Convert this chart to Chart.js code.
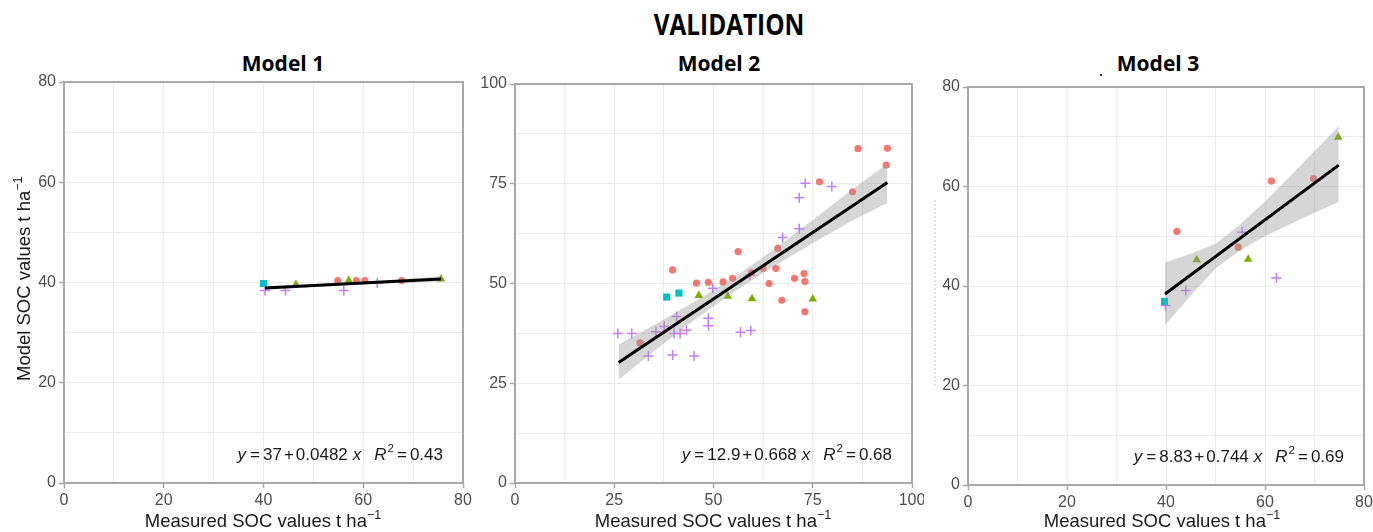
<!DOCTYPE html>
<html>
<head>
<meta charset="utf-8">
<script src="https://cdn.jsdelivr.net/npm/chart.js@4.4.0/dist/chart.umd.min.js"></script>
<style>
  body { margin: 0; background: #fff; }
  #page { position: relative; width: 1373px; height: 532px; overflow: hidden; font-family: "Liberation Sans", Arial, sans-serif; }
  .box { position: absolute; top: 40px; height: 470px; }
  .box canvas { display: block; }
  .head { position: absolute; font-family: "Open Sans", sans-serif; font-weight: 700; line-height: 1; white-space: nowrap; color: #000; }
  .axt { position: absolute; font-size: 18.5px; line-height: 1; white-space: nowrap; color: #1a1a1a; }
  .sup { position: relative; top: -8px; font-size: 12.5px; }
  #dots { position: absolute; left: 934px; top: 200px; height: 186px; border-left: 2px dotted #cdebf7; }
  #speck { position: absolute; left: 1100px; top: 74px; width: 2px; height: 2px; background: #333; }
</style>
</head>
<body>
<div id="page">
  <div class="head" style="left:729px; top:9px; font-size:29px; transform:translateX(-50%) scaleX(0.84);">VALIDATION</div>
  <div class="head" style="left:283px; top:53px; font-size:21px; transform:translateX(-50%);">Model 1</div>
  <div class="head" style="left:719px; top:53px; font-size:21px; transform:translateX(-50%);">Model 2</div>
  <div class="head" style="left:1158px; top:53px; font-size:21px; transform:translateX(-50%);">Model 3</div>
  <div id="speck"></div>
  <div id="dots"></div>

  <div class="box" style="left:0px; width:476px;"><canvas id="c1" width="476" height="470"></canvas></div>
  <div class="box" style="left:476px; width:448px;"><canvas id="c2" width="448" height="470"></canvas></div>
  <div class="box" style="left:924px; width:449px;"><canvas id="c3" width="449" height="470"></canvas></div>

  <div class="axt" style="left:263px; top:512px; transform:translateX(-50%);">Measured SOC values t ha<span class="sup">−1</span></div>
  <div class="axt" style="left:713px; top:512px; transform:translateX(-50%);">Measured SOC values t ha<span class="sup">−1</span></div>
  <div class="axt" style="left:1162px; top:512px; transform:translateX(-50%);">Measured SOC values t ha<span class="sup">−1</span></div>
  <div class="axt" style="left:15px; top:381px; transform-origin:0 0; transform:rotate(-90deg);">Model SOC values t ha<span class="sup">−1</span></div>
</div>

<script>
// ---- Model 1 ----
const m1Circles = [[54.9, 40.4], [58.6, 40.4], [60.3, 40.4], [67.7, 40.4]];
const m1Triangles = [[46.5, 39.6], [57.1, 40.4], [75.6, 40.7]];
const m1Squares = [[40.0, 39.8]];
const m1Crosses = [[40.3, 38.4], [44.4, 38.4], [56.1, 38.4], [62.8, 39.9]];
const m1FitX = [40.3, 75.6];
const m1FitY = [38.9, 40.7];
const m1BandX = [40.3, 57, 75.6];
const m1BandLo = [38.5, 39.55, 40.2];
const m1BandHi = [39.3, 39.95, 41.2];

// ---- Model 2 ----
const m2Circles = [
  [86.4, 83.8], [93.8, 83.9], [93.5, 79.7], [76.7, 75.5], [85.0, 73.0],
  [56.2, 58.0], [66.2, 58.8], [39.7, 53.4], [65.7, 53.8], [62.5, 53.8],
  [59.6, 52.7], [72.8, 52.5], [70.4, 51.3], [73.0, 50.5], [54.8, 51.3],
  [52.4, 50.4], [48.7, 50.3], [45.7, 50.1], [64.0, 50.0], [67.2, 45.8],
  [73.0, 42.9], [31.5, 35.1]
];
const m2Triangles = [[46.3, 47.0], [53.6, 46.8], [59.7, 46.2], [75.0, 46.1]];
const m2Squares = [[38.2, 46.6], [41.3, 47.6]];
const m2Crosses = [
  [25.9, 37.5], [29.4, 37.5], [33.6, 31.8], [39.7, 32.1], [45.1, 31.8],
  [35.5, 37.9], [37.6, 39.2], [40.7, 41.7], [41.6, 37.5], [43.2, 38.3],
  [40.1, 37.5], [48.7, 41.3], [48.7, 39.4], [49.8, 48.8], [56.8, 37.8],
  [59.4, 38.2], [67.4, 61.5], [71.6, 63.7], [71.6, 71.5], [73.1, 75.1],
  [79.8, 74.3], [59.2, 52.1]
];
const m2FitX = [26.1, 93.8];
const m2FitY = [30.2, 75.3];
const m2BandX = [26.1, 35, 45, 55, 65, 75, 85, 93.8];
const m2BandLo = [25.9, 33.0, 40.7, 47.8, 54.2, 60.1, 65.8, 70.2];
const m2BandHi = [34.7, 39.6, 45.3, 51.4, 58.4, 65.9, 73.6, 80.0];

// ---- Model 3 ----
const m3Circles = [[42.2, 51.0], [61.3, 61.1], [69.8, 61.6], [54.6, 47.8]];
const m3Triangles = [[46.2, 45.3], [56.6, 45.4], [74.8, 69.9]];
const m3Squares = [[39.7, 36.9]];
const m3Crosses = [[39.9, 36.1], [44.0, 39.1], [62.3, 41.6], [55.4, 50.8]];
const m3FitX = [39.8, 74.9];
const m3FitY = [38.4, 64.3];
const m3BandX = [39.8, 45, 50, 55, 60, 65, 70, 74.9];
const m3BandLo = [32.1, 38.1, 43.5, 47.2, 50.0, 52.4, 54.7, 56.9];
const m3BandHi = [44.7, 46.5, 48.5, 52.4, 57.0, 62.0, 67.1, 72.1];

// equation labels and axis ticks
const eqIntercept = ['37', '12.9', '8.83'];
const eqSlope = ['0.0482', '0.668', '0.744'];
const eqR2 = ['0.43', '0.68', '0.69'];
const axisMax = [80, 100, 80];
const minorStep = [10, 12.5, 10];
const majorStep = [20, 25, 20];

Chart.defaults.font.family = "'Liberation Sans', Arial, sans-serif";

const toXY = (pairs) => pairs.map(([x, y]) => ({ x, y }));
const zip = (xs, ys) => xs.map((x, i) => ({ x, y: ys[i] }));

// panel border + regression equation (plotmath-like tight spacing)
const framePlugin = {
  id: 'frame',
  afterDatasetsDraw(chart, args, opts) {
    const { ctx, chartArea: a } = chart;
    ctx.save();
    ctx.strokeStyle = '#a9a9a9';
    ctx.lineWidth = 2;
    ctx.strokeRect(a.left, a.top, a.right - a.left, a.bottom - a.top);

    const i = opts.index;
    // gap = space before the piece, in px
    const parts = [
      { t: 'y', it: true, gap: 0 }, { t: '=', gap: 4 }, { t: eqIntercept[i], gap: 3 }, { t: '+', gap: 2 },
      { t: eqSlope[i], gap: 2 }, { t: 'x', it: true, gap: 5 },
      { t: 'R', it: true, gap: 13 }, { t: '2', sup: true, gap: 1 }, { t: '=', gap: 3 }, { t: eqR2[i], gap: 3 }
    ];
    const size = 17;
    const fontOf = (p) => (p.it ? 'italic ' : '') + (p.sup ? 11.5 : size) + "px 'Liberation Sans', Arial, sans-serif";
    let total = 0;
    parts.forEach(p => { ctx.font = fontOf(p); p.w = ctx.measureText(p.t).width; total += p.w + p.gap; });
    let x = a.right - 20 - total;
    const base = a.bottom - 23;
    ctx.fillStyle = '#1a1a1a';
    ctx.textBaseline = 'alphabetic';
    parts.forEach(p => {
      x += p.gap;
      ctx.font = fontOf(p);
      ctx.fillText(p.t, x, p.sup ? base - 8 : base);
      x += p.w;
    });
    ctx.restore();
  }
};

function makePanel(id, i, plotLeft, plotRight, plotTop, plotBottom, canvasLeft, canvasWidth, d) {
  const yWidth = plotLeft - canvasLeft;
  const xHeight = 510 - plotBottom;
  const tickColor = (c) => (c.tick && c.tick.value % majorStep[i] === 0) ? '#a9a9a9' : 'rgba(0,0,0,0)';
  const label = (v) => (v % majorStep[i] === 0 ? v : '');
  const axis = (isX) => ({
    type: 'linear',
    min: 0,
    max: axisMax[i],
    border: { display: false },
    grid: { color: '#ebebeb', lineWidth: 1, tickLength: 5, tickColor: tickColor, tickWidth: 1.5 },
    ticks: { stepSize: minorStep[i], autoSkip: false, maxRotation: 0, color: '#4d4d4d', font: { size: 16 }, padding: 3, callback: label },
    afterFit: (s) => {
      if (isX) s.height = xHeight; else s.width = yWidth;
      s.paddingLeft = 0; s.paddingRight = 0; s.paddingTop = 0; s.paddingBottom = 0;
    }
  });

  new Chart(document.getElementById(id), {
    type: 'scatter',
    data: {
      datasets: [
        { data: toXY(d.circles), pointStyle: 'circle', pointRadius: 3.6, backgroundColor: '#F8766D', borderWidth: 0, order: 3 },
        { data: toXY(d.triangles), pointStyle: 'triangle', pointRadius: 5, backgroundColor: '#7CAE00', borderWidth: 0, order: 3 },
        { data: toXY(d.squares), pointStyle: 'rect', pointRadius: 5, backgroundColor: '#00BFC4', borderWidth: 0, order: 3 },
        { data: toXY(d.crosses), pointStyle: 'cross', pointRadius: 5, borderColor: '#C77CFF', borderWidth: 1.5, order: 3 },
        { data: zip(d.bandX, d.bandLo), showLine: true, pointRadius: 0, borderColor: 'rgba(0,0,0,0)', fill: false, order: 2 },
        { data: zip(d.bandX, d.bandHi), showLine: true, pointRadius: 0, borderColor: 'rgba(0,0,0,0)', backgroundColor: 'rgba(153,153,153,0.4)', fill: '-1', order: 1 },
        { data: zip(d.fitX, d.fitY), showLine: true, pointRadius: 0, borderColor: '#000', borderWidth: 3, order: 0 }
      ]
    },
    options: {
      responsive: false,
      animation: false,
      events: [],
      layout: { padding: { left: 0, right: canvasWidth - (plotRight - canvasLeft), top: plotTop - 40, bottom: 0 } },
      plugins: { legend: { display: false }, tooltip: { enabled: false }, filler: { drawTime: 'beforeDatasetDraw' }, frame: { index: i } },
      scales: { x: axis(true), y: axis(false) }
    },
    plugins: [framePlugin]
  });
}

makePanel('c1', 0, 64, 463, 82, 483, 0, 476, {
  circles: m1Circles, triangles: m1Triangles, squares: m1Squares, crosses: m1Crosses,
  fitX: m1FitX, fitY: m1FitY, bandX: m1BandX, bandLo: m1BandLo, bandHi: m1BandHi
});
makePanel('c2', 1, 515, 912, 84, 483, 476, 448, {
  circles: m2Circles, triangles: m2Triangles, squares: m2Squares, crosses: m2Crosses,
  fitX: m2FitX, fitY: m2FitY, bandX: m2BandX, bandLo: m2BandLo, bandHi: m2BandHi
});
makePanel('c3', 2, 968, 1364, 87, 485, 924, 449, {
  circles: m3Circles, triangles: m3Triangles, squares: m3Squares, crosses: m3Crosses,
  fitX: m3FitX, fitY: m3FitY, bandX: m3BandX, bandLo: m3BandLo, bandHi: m3BandHi
});
</script>
</body>
</html>
